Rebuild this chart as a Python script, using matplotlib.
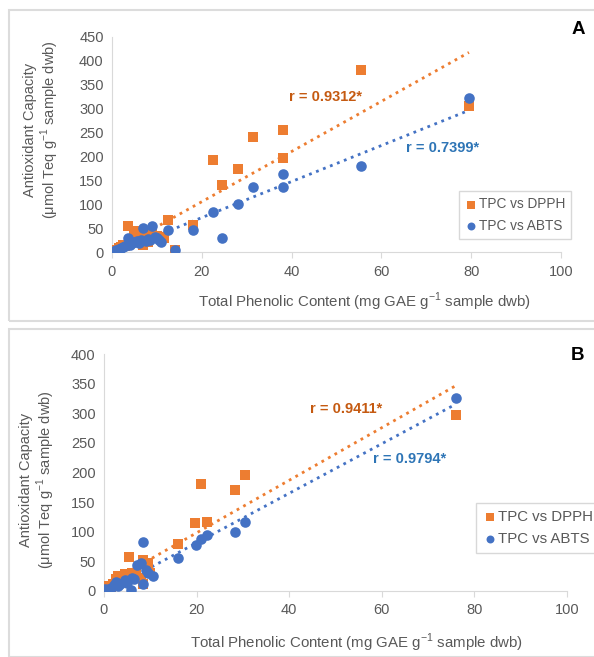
import numpy as np
import matplotlib
matplotlib.use('Agg')
import matplotlib.pyplot as plt
from matplotlib.patches import Rectangle

plt.rcParams['font.family'] = ['Liberation Sans', 'DejaVu Sans']
plt.rcParams['mathtext.fontset'] = 'custom'
plt.rcParams['mathtext.rm'] = 'Liberation Sans'

# panel A data (TPC, antioxidant capacity)
a_dpph_x = [0.5, 1, 1.5, 2, 2.5, 3, 3.5, 4, 4.5, 5, 5.5, 6, 6.5, 7, 7.5, 8, 8.5, 9, 9.5, 10,
            11, 11.5, 12.5, 14, 18, 22.5, 24.5, 28, 31.5, 38, 38, 55.5, 79.5]
a_dpph_y = [2, 5, 8, 10, 14, 12, 55, 20, 25, 40, 45, 30, 35, 15, 28, 20, 40, 38, 30, 33,
            32, 30, 67, 5, 57, 193, 140, 173, 240, 197, 255, 380, 305]
a_abts_x = [0.5, 1, 1.5, 2, 2.5, 3, 3.5, 4, 4.5, 5, 5.5, 6, 6.5, 7, 7.5, 8, 8.5, 9, 9.5, 10,
            10.5, 11, 12.5, 14, 18, 22.5, 24.5, 28, 31.5, 38, 38, 55.5, 79.5]
a_abts_y = [2, 4, 6, 8, 10, 12, 30, 15, 18, 20, 22, 18, 25, 50, 22, 28, 25, 55, 32, 30,
            25, 20, 46, 4, 47, 84, 30, 101, 137, 137, 163, 180, 323]

# panel B data
b_dpph_x = [0.5, 1, 1.5, 2, 2.5, 3, 3.5, 4, 4.5, 5, 5.5, 6, 6.5, 7, 8, 8.5, 8.5, 9, 9.5, 10,
            16, 19.7, 21, 22.3, 28.3, 30.5, 76]
b_dpph_y = [3, 8, 5, 12, 20, 25, 18, 22, 28, 28, 58, 30, 25, 28, 22, 53, 12, 45, 47, 30,
            80, 114, 180, 117, 171, 195, 297]
b_abts_x = [0.3, 0.8, 1, 1.5, 2.2, 2.5, 3, 3.5, 4.5, 5, 5.8, 6, 6.5, 7.2, 8, 8.5, 8.5, 9, 9.5,
            10.5, 16, 19.8, 21, 22.3, 28.3, 30.5, 76]
b_abts_y = [4, 2, 3, 5, 10, 15, 8, 12, 18, 14, 1, 22, 20, 44, 47, 82, 12, 35, 30,
            25, 55, 78, 87, 95, 100, 116, 325]

r_labels_a = ['r = 0.9312*', 'r = 0.7399*']
r_labels_b = ['r = 0.9411*', 'r = 0.9794*']

orange = '#ED7D31'
blue = '#4472C4'
orange_txt = '#C55A11'
blue_txt = '#2E75B6'
grey = '#595959'

W, H = 594, 657
fig = plt.figure(figsize=(W / 100, H / 100), dpi=100)

# panel frames
for (y0, h) in [(1 - 321 / H, 311 / H), (0, 1 - 329 / H)]:
    fig.patches.append(Rectangle((9 / W, y0), 1.2, h, transform=fig.transFigure,
                                 fill=False, edgecolor='#dcdcdc', lw=1.5))

xlabel = r'Total Phenolic Content (mg GAE g$^{\mathregular{-1}}$ sample dwb)'
ylabel = 'Antioxidant Capacity\n' + r'($\mathregular{\mu}$mol Teq g$^{\mathregular{-1}}$ sample dwb)'


def panel(ax, dx, dy, ax_, ay_, ymax, rlabels, rpos, leg_anchor, leg_fs,
          xlab_pos, ylab_pos, letter, letter_y):
    x = np.array(dx); y = np.array(dy)
    x2 = np.array(ax_); y2 = np.array(ay_)
    ax.scatter(x, y, marker='s', s=48, color=orange, label='TPC vs DPPH', zorder=3, lw=0)
    ax.scatter(x2, y2, marker='o', s=58, color=blue, label='TPC vs ABTS', zorder=3, lw=0)
    # linear trendlines
    for xx, yy, c in [(x, y, orange), (x2, y2, blue)]:
        k, b = np.polyfit(xx, yy, 1)
        xs = np.array([xx.min(), xx.max()])
        ax.plot(xs, k * xs + b, ls=(0, (1, 1.7)), lw=2.0, color=c, zorder=2)
    ax.text(rpos[0][0], rpos[0][1], rlabels[0], color=orange_txt, fontsize=10.5,
            fontweight='bold', va='center')
    ax.text(rpos[1][0], rpos[1][1], rlabels[1], color=blue_txt, fontsize=10.5,
            fontweight='bold', va='center')
    ax.set_xlim(0, 100)
    ax.set_ylim(0, ymax)
    ax.set_xticks(range(0, 101, 20))
    ax.set_yticks(range(0, ymax + 1, 50))
    for s in ['top', 'right']:
        ax.spines[s].set_visible(False)
    for s in ['left', 'bottom']:
        ax.spines[s].set_color('#d9d9d9')
    ax.tick_params(axis='y', length=0, labelsize=10.5, labelcolor=grey, pad=6)
    ax.tick_params(axis='x', length=4, color='#d9d9d9', labelsize=10.5, labelcolor=grey, pad=5)
    # axis titles placed like the original (pixel positions)
    fig.text(xlab_pos[0] / W, 1 - xlab_pos[1] / H, xlabel, fontsize=10.8, color=grey,
             ha='center', va='center')
    fig.text(ylab_pos[0] / W, 1 - ylab_pos[1] / H, ylabel, fontsize=10.5, color=grey,
             ha='center', va='center', rotation=90, linespacing=1.1, multialignment='center')
    leg = ax.legend(loc='upper left', bbox_to_anchor=leg_anchor, bbox_transform=fig.transFigure,
                    fontsize=leg_fs, frameon=True, fancybox=False, handletextpad=0.1,
                    handlelength=0.9, borderpad=0.45, labelspacing=0.55, markerscale=0.75,
                    borderaxespad=0)
    leg.get_frame().set_edgecolor('#cfcfcf')
    for t in leg.get_texts():
        t.set_color(grey)
    fig.text(578 / W, letter_y, letter, fontsize=13.5, fontweight='bold', ha='center', va='center')


axA = fig.add_axes([112 / W, 1 - 252 / H, 449 / W, 215 / H])
panel(axA, a_dpph_x, a_dpph_y, a_abts_x, a_abts_y, 450, r_labels_a,
      [(39.5, 324), (65.5, 218)], (459 / W, 1 - 191 / H), 9.8,
      (365, 302), (42, 130), 'A', 1 - 30 / H)

axB = fig.add_axes([104 / W, 1 - 591 / H, 463 / W, 237 / H])
panel(axB, b_dpph_x, b_dpph_y, b_abts_x, b_abts_y, 400, r_labels_b,
      [(44.5, 307), (58.2, 223)], (476 / W, 1 - 503 / H), 10.8,
      (357, 643), (38, 480), 'B', 1 - 355 / H)

fig.savefig('out.png', dpi=100)
